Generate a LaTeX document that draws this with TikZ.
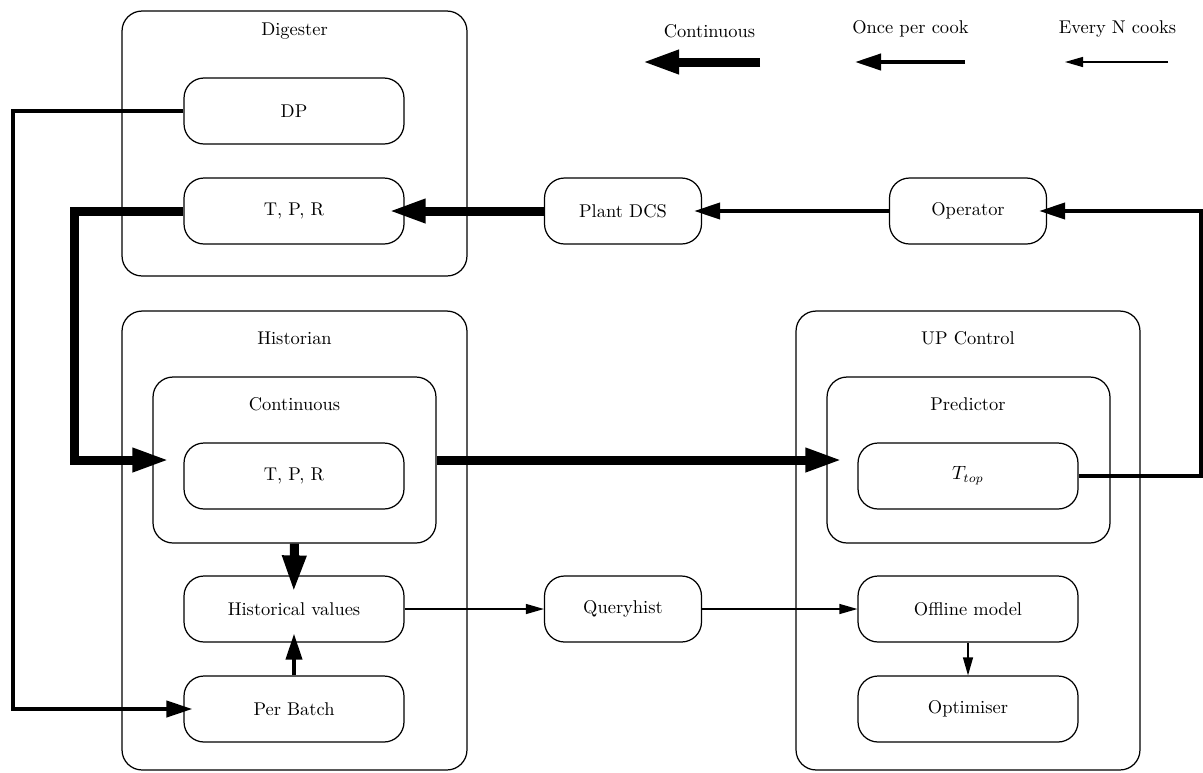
\documentclass[tikz,border=0pt]{standalone}
\usetikzlibrary{arrows.meta}
\begin{document}
\begin{tikzpicture}[x=0.02cm,y=-0.02cm,
  every node/.style={font=\fontsize{10.5pt}{12.6pt}\selectfont},
  box/.style={draw, line width=0.7pt, rounded corners=0.4cm, minimum width=4.4cm, minimum height=1.32cm, inner sep=0pt},
  smallbox/.style={box, minimum width=3.14cm},
  group/.style={draw, line width=0.7pt, rounded corners=0.4cm, inner sep=0pt},
  title/.style={inner sep=0pt},
  contflow/.style={line width=0.18cm, -{Triangle[length=0.74cm,width=0.44cm]}},
  cookflow/.style={line width=0.08cm, -{Triangle[length=0.52cm,width=0.32cm]}},
  nflow/.style={line width=0.75pt, -{Triangle[length=0.36cm,width=0.2cm]}},
]
\useasboundingbox (0,0) rectangle (1203,772);

% routing lanes
\coordinate (laneA) at (13,0);
\coordinate (laneB) at (74,0);
\coordinate (laneR) at (1201,0);

% legend
\node[title] (lgcont) at (709.5,31) {Continuous};
\node[title] (lgcook) at (910.5,29) {Once per cook};
\node[title] (lgn)    at (1117.5,29) {Every N cooks};
\coordinate (lgcontA) at (760,62);  \coordinate (lgcontB) at (642,62);
\coordinate (lgcookA) at (965,62);  \coordinate (lgcookB) at (855,62);
\coordinate (lgnA)    at (1168,62); \coordinate (lgnB)    at (1065,62);
\draw[contflow] (lgcontA) -- (lgcontB);
\draw[cookflow] (lgcookA) -- (lgcookB);
\draw[nflow]    (lgnA) -- (lgnB);

% digester
\node[group, minimum width=6.9cm, minimum height=5.3cm] (digester) at (294.5,143.5) {};
\node[title] (digt) at (294.5,31) {Digester};
\node[box] (dp)   at (294,111) {DP};
\node[box] (tprd) at (294,211) {T, P, R};

% plant side
\node[smallbox] (dcs)      at (623,211) {Plant DCS};
\node[smallbox] (operator) at (968,211) {Operator};

% historian
\node[group, minimum width=6.9cm, minimum height=9.18cm] (historian) at (294.5,540.5) {};
\node[title] (histt) at (294.5,338) {Historian};
\node[group, minimum width=5.66cm, minimum height=3.32cm] (continuous) at (294.5,460) {};
\node[title] (contt) at (294.5,404) {Continuous};
\node[box] (tprh)     at (294,476) {T, P, R};
\node[box] (histvals) at (294,609) {Historical values};
\node[box] (perbatch) at (294,709) {Per Batch};

\node[smallbox] (queryhist) at (623,609) {Queryhist};

% UP control
\node[group, minimum width=6.88cm, minimum height=9.18cm] (upcontrol) at (968,540.5) {};
\node[title] (upt) at (968,338) {UP Control};
\node[group, minimum width=5.66cm, minimum height=3.32cm] (predictor) at (968.5,460) {};
\node[title] (predt) at (968,404) {Predictor};
\node[box] (ttop)      at (968,476) {$T_{top}$};
\node[box] (offline)   at (968,609) {Offline model};
\node[box] (optimiser) at (968,709) {Optimiser};

% continuous flows
\draw[contflow, shorten >=-0.32cm] (dcs.west) -- (tprd.east);
\draw[contflow, shorten >=-0.34cm] (tprd.west) -- (tprd.west -| laneB) |- (continuous.west);
\draw[contflow, shorten >=-0.32cm] (continuous.east) -- (predictor.west);
\draw[contflow, shorten >=-0.34cm] (continuous.south) -- (histvals.north);

% once per cook flows
\draw[cookflow, shorten >=-0.16cm] (operator.west) -- (dcs.east);
\draw[cookflow, shorten >=-0.16cm] (ttop.east) -- (ttop.east -| laneR) |- (operator.east);
\draw[cookflow, shorten >=-0.18cm] (dp.west) -- (dp.west -| laneA) |- (perbatch.west);
\draw[cookflow, shorten >=-0.18cm] (perbatch.north) -- (histvals.south);

% every N cooks flows
\draw[nflow] (histvals.east) -- (queryhist.west);
\draw[nflow] (queryhist.east) -- (offline.west);
\draw[nflow] (offline.south) -- (optimiser.north);
\end{tikzpicture}
\end{document}
